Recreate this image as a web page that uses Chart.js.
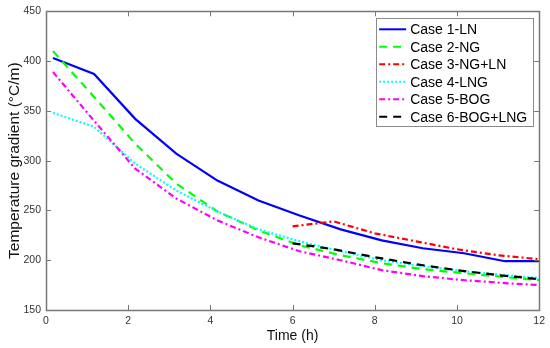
<!DOCTYPE html>
<html>
<head>
<meta charset="utf-8">
<script src="https://cdn.jsdelivr.net/npm/chart.js@4/dist/chart.umd.min.js"></script>
<style>
  html, body { margin: 0; padding: 0; background: #fff; }
  #wrap { width: 550px; height: 348px; }
</style>
</head>
<body>
<div id="wrap"><canvas id="myChart" width="550" height="348"></canvas></div>
<script>
// time axis (h) for cases 1, 2, 4, 5
const timeMain = [0.17, 1.17, 2.17, 3.17, 4.17, 5.17, 6.17, 7.17, 8.17, 9.17, 10.17, 11.17, 12];
// time axis (h) for cases 3 and 6 (start at 6 h)
const timeLate = [6, 7, 8, 9, 10, 11, 12];

const case1 = [403, 387, 342, 307, 280, 260, 245, 231, 220, 212, 207, 199, 199];
const case2 = [410, 364, 317, 277, 249, 230, 215, 205, 197, 191, 187, 183, 180];
const case3 = [234, 239, 227, 219, 211, 205, 201];
const case4 = [348, 334, 297, 270, 249, 231, 219, 209, 200, 194, 189, 185, 182];
const case5 = [389, 340, 292, 262, 240, 223, 209, 200, 190, 184, 180, 177, 175];
const case6 = [217, 211, 203, 196, 190, 185, 181];

const xTicks = [0, 2, 4, 6, 8, 10, 12];
const yTicks = [150, 200, 250, 300, 350, 400, 450];

const FONT = '"Liberation Sans", Arial, sans-serif';

function pts(xs, ys) {
    return ys.map((y, i) => ({ x: xs[i], y: y }));
}

const series = [
    { label: "Case 1-LN", x: timeMain, y: case1, color: "#0000ff", dash: [] },
    { label: "Case 2-NG", x: timeMain, y: case2, color: "#00ff00", dash: [8, 6] },
    { label: "Case 3-NG+LN", x: timeLate, y: case3, color: "#ff0000", dash: [6, 3, 2, 3] },
    { label: "Case 4-LNG", x: timeMain, y: case4, color: "#00ffff", dash: [2, 2] },
    { label: "Case 5-BOG", x: timeMain, y: case5, color: "#ff00ff", dash: [6, 3, 2, 3] },
    { label: "Case 6-BOG+LNG", x: timeLate, y: case6, color: "#000000", dash: [8, 6] }
];

// MATLAB-like box with inward ticks
const boxAxes = {
    id: "boxAxes",
    afterDatasetsDraw(chart) {
        const { ctx, chartArea: a, scales } = chart;
        const tl = 5;
        ctx.save();
        ctx.strokeStyle = "#777";
        ctx.lineWidth = 1;
        ctx.setLineDash([]);
        ctx.beginPath();
        xTicks.forEach(v => {
            const px = Math.round(scales.x.getPixelForValue(v)) + 0.5;
            ctx.moveTo(px, a.bottom); ctx.lineTo(px, a.bottom - tl);
            ctx.moveTo(px, a.top); ctx.lineTo(px, a.top + tl);
        });
        yTicks.forEach(v => {
            const py = Math.round(scales.y.getPixelForValue(v)) + 0.5;
            ctx.moveTo(a.left, py); ctx.lineTo(a.left + tl, py);
            ctx.moveTo(a.right, py); ctx.lineTo(a.right - tl, py);
        });
        ctx.stroke();
        ctx.lineWidth = 1.5;
        ctx.strokeRect(Math.round(a.left) + 0.5, Math.round(a.top) + 0.5,
            Math.round(a.right - a.left), Math.round(a.bottom - a.top));
        ctx.restore();
    }
};

// legend box inside the top-right corner
const boxLegend = {
    id: "boxLegend",
    afterDraw(chart) {
        const { ctx, chartArea: a } = chart;
        const w = 157, rowH = 17.5, h = 108;
        const x0 = a.right - 6 - w, y0 = a.top + 7;
        ctx.save();
        ctx.fillStyle = "#fff";
        ctx.fillRect(x0, y0, w, h);
        ctx.strokeStyle = "#8a8a8a";
        ctx.lineWidth = 1;
        ctx.strokeRect(Math.round(x0) + 0.5, Math.round(y0) + 0.5, w, h);
        ctx.font = "14px " + FONT;
        ctx.textBaseline = "middle";
        chart.data.datasets.forEach((ds, i) => {
            const cy = y0 + 11 + i * rowH;
            ctx.strokeStyle = ds.borderColor;
            ctx.lineWidth = 2;
            ctx.setLineDash(ds.borderDash);
            ctx.beginPath();
            ctx.moveTo(x0 + 3, cy);
            ctx.lineTo(x0 + 30, cy);
            ctx.stroke();
            ctx.setLineDash([]);
            ctx.fillStyle = "#000";
            ctx.fillText(ds.label, x0 + 34, cy + 1);
        });
        ctx.restore();
    }
};

new Chart(document.getElementById("myChart"), {
    type: "line",
    data: {
        datasets: series.map((s, i) => ({
            label: s.label,
            data: pts(s.x, s.y),
            borderColor: s.color,
            backgroundColor: s.color,
            borderDash: s.dash,
            borderWidth: 2.2,
            pointRadius: 0,
            tension: 0,
            fill: false,
            order: series.length - i
        }))
    },
    options: {
        responsive: false,
        animation: false,
        layout: { padding: { left: 0, right: 10, top: 8, bottom: 0 } },
        plugins: {
            legend: { display: false },
            tooltip: { enabled: false }
        },
        scales: {
            x: {
                type: "linear",
                min: 0,
                max: 12,
                afterBuildTicks: s => { s.ticks = xTicks.map(v => ({ value: v })); },
                afterFit: s => { s.height = 38; },
                grid: { display: false, drawTicks: false },
                border: { display: false },
                ticks: { color: "#333", padding: 5, font: { family: FONT, size: 10.5 } },
                title: {
                    display: true,
                    text: "Time (h)",
                    color: "#111",
                    padding: { top: 0, bottom: 3 },
                    font: { family: FONT, size: 14 }
                }
            },
            y: {
                type: "linear",
                min: 150,
                max: 450,
                afterBuildTicks: s => { s.ticks = yTicks.map(v => ({ value: v })); },
                afterFit: s => { s.width = 46; },
                grid: { display: false, drawTicks: false },
                border: { display: false },
                ticks: { color: "#333", padding: 5, font: { family: FONT, size: 10.5 } },
                title: {
                    display: true,
                    text: "Temperature gradient (°C/m)",
                    color: "#111",
                    padding: { top: 5, bottom: 0 },
                    font: { family: FONT, size: 15.5 }
                }
            }
        }
    },
    plugins: [boxAxes, boxLegend]
});
</script>
</body>
</html>
